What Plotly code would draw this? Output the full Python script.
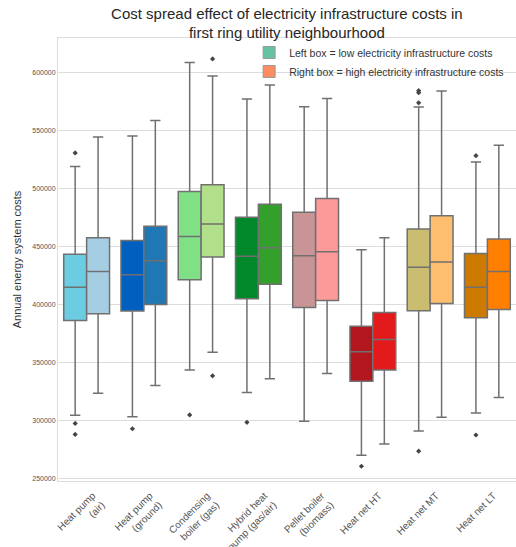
import plotly.graph_objects as go

categories = ["Heat pump<br>(air)", "Heat pump<br>(ground)", "Condensing<br>boiler (gas)",
              "Hybrid heat<br>pump (gas/air)", "Pellet boiler<br>(biomass)",
              "Heat net HT", "Heat net MT", "Heat net LT"]

# low electricity infrastructure costs (left box)
low_lo  = [304600, 303400, 343500, 324200, 299400, 270200, 291000, 306600]
low_q1  = [386200, 394300, 421400, 405000, 397500, 334000, 394600, 388500]
low_med = [414800, 425700, 458600, 441600, 441900, 359400, 432100, 414800]
low_q3  = [443350, 455200, 497300, 475100, 479400, 381300, 465000, 443900]
low_hi  = [518900, 545200, 608400, 576900, 570300, 447100, 570000, 522700]
low_out = [[530500, 297600, 288100], [293000], [304900], [298500], [], [260700],
           [584100, 582400, 573700, 273700], [528200, 287600]]

# high electricity infrastructure costs (right box)
high_lo  = [323600, 330300, 358800, 336000, 340600, 279800, 302800, 319900]
high_q1  = [392000, 400100, 441000, 417400, 403500, 343500, 400900, 395700]
high_med = [428400, 437600, 469300, 448800, 445400, 369800, 436700, 428400]
high_q3  = [457500, 467300, 503100, 486300, 491200, 393100, 476500, 456300]
high_hi  = [544300, 558500, 596800, 589000, 577500, 457500, 583800, 537100]
high_out = [[], [], [611500, 338600], [], [], [], [], []]

low_colors  = ["#6ccde2", "#005fbf", "#7fe085", "#00882b", "#c89496", "#b3171e", "#cbbd6f", "#cc7a00"]
high_colors = ["#a6cee3", "#1f78b4", "#b2df8a", "#33a02c", "#fb9a99", "#e31a1c", "#fdbf6f", "#ff7f00"]

legend_labels = ["Left box = low electricity infrastructure costs",
                 "Right box = high electricity infrastructure costs"]
legend_colors = ["#66c2a5", "#fc8d62"]

LINE = "#707070"
OFF = 0.2
W = 0.4

fig = go.Figure()

for i in range(len(categories)):
    for side, lo, q1, med, q3, hi, outs, cols in [
        (-1, low_lo, low_q1, low_med, low_q3, low_hi, low_out, low_colors),
        (1, high_lo, high_q1, high_med, high_q3, high_hi, high_out, high_colors)]:
        xpos = i + side * OFF
        fig.add_trace(go.Box(
            x=[xpos], q1=[q1[i]], median=[med[i]], q3=[q3[i]],
            lowerfence=[lo[i]], upperfence=[hi[i]],
            width=W, whiskerwidth=0.45,
            fillcolor=cols[i], line=dict(color=LINE, width=1.5),
            boxpoints=False, showlegend=False, hoverinfo="skip"))
        if outs[i]:
            fig.add_trace(go.Scatter(
                x=[xpos] * len(outs[i]), y=outs[i], mode="markers",
                marker=dict(symbol="diamond", size=4, color="#444444"),
                showlegend=False, hoverinfo="skip"))

for lab, col in zip(legend_labels, legend_colors):
    fig.add_trace(go.Bar(x=[None], y=[None], name=lab,
                         marker=dict(color=col, line=dict(color="#999999", width=1))))

fig.update_layout(
    width=516, height=547,
    margin=dict(l=58, r=0, t=38, b=66),
    paper_bgcolor="white", plot_bgcolor="white",
    font=dict(family="Liberation Sans, Arial, sans-serif", color="#333333"),
    title=dict(text="Cost spread effect of electricity infrastructure costs in<br>first ring utility neighbourhood",
               x=0.556, xanchor="center", y=0.966, yanchor="top",
               font=dict(size=15, color="#262626")),
    legend=dict(x=0.985, y=1.0, xanchor="right", yanchor="top",
                bgcolor="rgba(255,255,255,0)", font=dict(size=10.5, color="#333333"),
                itemwidth=30, tracegroupgap=0),
    xaxis=dict(range=[-0.5, len(categories) - 0.5], tickmode="array",
               tickvals=list(range(len(categories))), ticktext=categories,
               tickangle=-45, tickfont=dict(size=10, color="#555555"),
               ticklabelshift=6, ticklabelstandoff=4,
               showgrid=False, zeroline=False, showline=True, linecolor="#dddddd",
               mirror=True, automargin=False),
    yaxis=dict(range=[248000, 629500], tickmode="array",
               tickvals=[250000, 300000, 350000, 400000, 450000, 500000, 550000, 600000],
               ticktext=["250000", "300000", "350000", "400000", "450000", "500000", "550000", "600000"],
               tickfont=dict(size=7, color="#555555"),
               title=dict(text="Annual energy system costs", font=dict(size=11, color="#333333"), standoff=8),
               showgrid=True, gridcolor="#dddddd", gridwidth=1, zeroline=False,
               showline=True, linecolor="#dddddd", mirror=True, automargin=False),
)

fig.write_html("out.html", config={"displayModeBar": False},
               post_script="document.body.style.margin='0';document.body.style.overflow='hidden';")
